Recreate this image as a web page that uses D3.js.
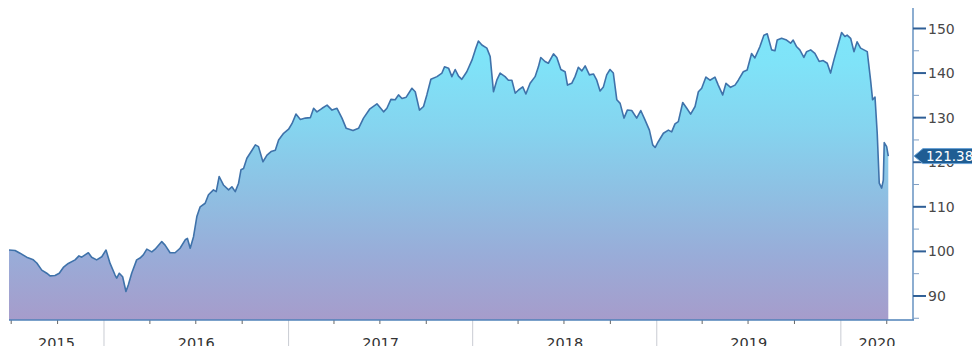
<!DOCTYPE html>
<html><head><meta charset="utf-8">
<script src="https://cdn.jsdelivr.net/npm/d3@7"></script>
<style>html,body{margin:0;padding:0;background:#fff;overflow:hidden}svg{display:block}</style>
</head><body>
<svg id="c" width="972" height="346"></svg>
<script>
// decimal-year time stamps of each observation
const times = [2015.484,2015.517,2015.544,2015.580,2015.616,2015.635,2015.662,2015.689,2015.707,2015.734,2015.757,2015.779,2015.806,2015.843,2015.864,2015.879,2015.897,2015.915,2015.933,2015.960,2015.988,
2016.011,2016.033,2016.060,2016.069,2016.083,2016.101,2016.119,2016.132,2016.150,2016.177,2016.195,2016.213,2016.232,2016.259,2016.277,2016.313,2016.331,2016.358,2016.385,2016.412,2016.440,2016.452,2016.467,2016.485,2016.503,2016.521,2016.548,2016.566,2016.593,2016.608,2016.624,2016.647,2016.675,2016.693,2016.711,2016.729,2016.742,2016.756,2016.774,2016.802,2016.820,2016.837,2016.861,2016.883,2016.905,2016.928,2016.946,2016.973,
2017.000,2017.019,2017.040,2017.064,2017.091,2017.118,2017.136,2017.154,2017.182,2017.209,2017.236,2017.263,2017.290,2017.313,2017.350,2017.380,2017.407,2017.440,2017.480,2017.516,2017.534,2017.556,2017.579,2017.597,2017.616,2017.639,2017.670,2017.688,2017.711,2017.733,2017.751,2017.773,2017.806,2017.833,2017.847,2017.869,2017.887,2017.905,2017.923,2017.941,2017.968,2017.996,
2018.014,2018.031,2018.050,2018.077,2018.095,2018.113,2018.131,2018.149,2018.176,2018.194,2018.213,2018.231,2018.249,2018.272,2018.289,2018.312,2018.339,2018.357,2018.370,2018.393,2018.411,2018.439,2018.457,2018.479,2018.502,2018.515,2018.538,2018.556,2018.574,2018.593,2018.611,2018.634,2018.656,2018.674,2018.692,2018.710,2018.728,2018.746,2018.764,2018.783,2018.801,2018.822,2018.840,2018.864,2018.891,2018.913,2018.936,2018.960,2018.978,2018.991,
2019.008,2019.036,2019.063,2019.081,2019.099,2019.117,2019.141,2019.163,2019.184,2019.208,2019.226,2019.244,2019.267,2019.289,2019.316,2019.334,2019.358,2019.376,2019.401,2019.425,2019.443,2019.470,2019.491,2019.515,2019.533,2019.560,2019.582,2019.600,2019.624,2019.642,2019.654,2019.678,2019.705,2019.727,2019.741,2019.760,2019.777,2019.799,2019.814,2019.836,2019.859,2019.882,2019.904,2019.926,2019.944,2019.962,2019.985,
2020.004,2020.022,2020.034,2020.053,2020.071,2020.088,2020.107,2020.125,2020.143,2020.161,2020.172,2020.185,2020.197,2020.208,2020.221,2020.230,2020.235,2020.248,2020.257];
const values = [100.3,100.2,99.6,98.7,98.1,97.4,95.8,95.1,94.5,94.6,95.1,96.4,97.3,98.1,99.0,98.7,99.2,99.7,98.7,98.1,98.8,
100.3,97.3,94.7,94.0,95.1,94.3,91.0,92.5,95.1,98.1,98.5,99.2,100.5,99.9,100.5,102.2,101.4,99.7,99.7,100.7,102.6,102.9,100.7,103.3,107.8,110.0,110.8,112.7,113.8,113.4,116.8,114.9,113.8,114.5,113.4,115.3,118.3,118.6,120.9,122.7,123.9,123.5,120.1,121.6,122.4,122.7,125.0,126.5,
127.4,128.7,130.8,129.6,129.9,130.0,132.1,131.3,132.1,132.8,131.7,132.1,129.9,127.6,127.1,127.6,129.9,131.9,133.1,131.3,132.1,134.1,134.0,135.1,134.3,134.6,136.6,135.8,131.7,132.5,135.1,138.6,139.2,140.0,141.4,141.1,139.2,140.8,139.3,138.6,140.3,142.9,
145.2,147.2,146.3,145.6,143.7,135.8,138.4,140.0,139.2,138.4,138.4,135.5,136.2,136.9,135.3,137.7,139.2,141.4,143.5,142.6,142.2,144.3,143.5,140.8,140.3,137.3,137.7,139.2,141.3,140.5,141.6,139.6,139.8,138.4,136.0,136.9,139.6,140.8,140.0,134.0,133.2,129.9,131.7,131.6,129.9,131.6,129.5,127.2,123.9,123.3,
124.6,126.5,127.2,126.8,128.6,129.1,133.4,132.1,130.8,132.5,135.8,136.6,139.1,138.4,139.1,137.3,135.1,137.7,136.8,137.3,138.4,140.3,140.7,144.4,143.4,145.9,148.5,148.8,145.2,145.0,147.4,147.8,147.4,146.7,147.4,145.9,145.2,143.5,144.8,145.2,144.4,142.6,142.8,142.2,140.0,142.9,146.3,
149.1,148.2,148.5,147.8,144.8,147.0,145.6,145.2,144.8,138.4,134.0,134.6,126.5,115.3,114.2,116.0,124.4,123.5,121.38];
const yTicks = [90,100,110,120,130,140,150];
const yMinorTicks = [85,95,105,115,125,135,145];
const yearLabels = ["2015","2016","2017","2018","2019","2020"];
const lastLabel = "121.38";

function toDate(t){
  const y = Math.floor(t);
  const a = new Date(y,0,1).getTime(), b = new Date(y+1,0,1).getTime();
  return new Date(a + (t - y) * (b - a));
}
const data = times.map((t,i)=>({date:toDate(t), value:values[i]}));

const svg = d3.select("#c");
const plotL = 9, plotR = 888.3, axisX = 913, axisBottom = 320;
const x = d3.scaleTime().domain(d3.extent(data,d=>d.date)).range([plotL, plotR]);
const y = d3.scaleLinear().domain([84.61,156.39]).range([axisBottom,0]);

// gradient
const defs = svg.append("defs");
const g = defs.append("linearGradient").attr("id","fillGrad")
  .attr("gradientUnits","userSpaceOnUse").attr("x1",0).attr("x2",0).attr("y1",0).attr("y2",axisBottom);
[[0,"#7ee8fc"],[0.2,"#7fe3f8"],[0.4,"#85d4ef"],[0.6,"#8ec0e3"],[0.8,"#99acd8"],[1,"#a69ccb"]]
  .forEach(([o,c])=>g.append("stop").attr("offset",o).attr("stop-color",c));

const area = d3.area().x(d=>x(d.date)).y0(axisBottom).y1(d=>y(d.value)).curve(d3.curveLinear);
const line = d3.line().x(d=>x(d.date)).y(d=>y(d.value)).curve(d3.curveLinear);
svg.append("path").datum(data).attr("d",area).attr("fill","url(#fillGrad)");
svg.append("path").datum(data).attr("d",line).attr("fill","none")
  .attr("stroke","#3f72aa").attr("stroke-width",1.6).attr("stroke-linejoin","round");

// bottom axis
const yearStarts = d3.timeYear.range(new Date(2016,0,1), new Date(2021,0,1));
svg.selectAll(".yd").data(yearStarts).join("line")
  .attr("x1",d=>x(d)).attr("x2",d=>x(d)).attr("y1",axisBottom).attr("y2",346)
  .attr("stroke","#c9ccd3").attr("stroke-width",1);
const quarters = d3.timeMonth.every(3).range(new Date(2015,6,1), new Date(2020,4,1)).filter(d=>d.getMonth()!==0);
svg.selectAll(".qt").data(quarters).join("line")
  .attr("x1",d=>x(d)).attr("x2",d=>x(d)).attr("y1",axisBottom).attr("y2",axisBottom+4)
  .attr("stroke","#666").attr("stroke-width",1);
svg.append("line").attr("x1",plotL).attr("x2",axisX+1).attr("y1",axisBottom).attr("y2",axisBottom)
  .attr("stroke","#4f82b8").attr("stroke-width",1.3);
const bounds = [plotL, ...yearStarts.slice(0,5).map(d=>x(d)), axisX];
svg.selectAll(".yl").data(yearLabels).join("text")
  .attr("x",(d,i)=>(bounds[i]+bounds[i+1])/2).attr("y",348)
  .attr("text-anchor","middle").attr("font-family","DejaVu Sans, sans-serif").attr("font-size",14.5)
  .attr("fill","#333").text(d=>d);

// right axis
svg.append("line").attr("x1",axisX).attr("x2",axisX).attr("y1",8).attr("y2",axisBottom)
  .attr("stroke","#4f82b8").attr("stroke-width",1.3);
svg.selectAll(".ymt").data(yMinorTicks).join("line")
  .attr("x1",axisX).attr("x2",axisX+6).attr("y1",d=>y(d)).attr("y2",d=>y(d))
  .attr("stroke","#7f9fc4").attr("stroke-width",1);
svg.selectAll(".yt").data(yTicks).join("line")
  .attr("x1",axisX).attr("x2",axisX+13).attr("y1",d=>y(d)).attr("y2",d=>y(d))
  .attr("stroke","#2f5f96").attr("stroke-width",2);
svg.selectAll(".ytl").data(yTicks).join("text")
  .attr("x",axisX+15).attr("y",d=>y(d)).attr("dy","0.36em")
  .attr("font-family","DejaVu Sans, sans-serif").attr("font-size",14).attr("fill","#484848").text(d=>d);

// last value marker
const lv = values[values.length-1], ly = y(lv);
svg.append("path")
  .attr("d",`M${axisX+1},${ly} L${axisX+10},${ly-7.5} L975,${ly-7.5} L975,${ly+7.5} L${axisX+10},${ly+7.5} Z`)
  .attr("fill","#1f5d93").attr("stroke","#6aa3d6").attr("stroke-width",1);
svg.append("text").attr("x",axisX+13).attr("y",ly).attr("dy","0.36em")
  .attr("font-family","DejaVu Sans, sans-serif").attr("font-size",13.5).attr("fill","#fff").text(lastLabel);
</script>
</body></html>
